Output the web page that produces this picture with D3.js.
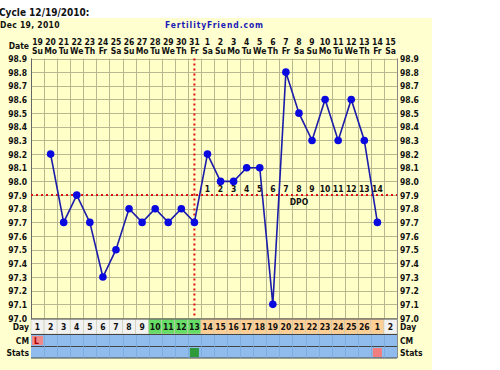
<!DOCTYPE html>
<html><head><meta charset="utf-8">
<script src="https://cdn.jsdelivr.net/npm/d3@7/dist/d3.min.js"></script>
<style>body{margin:0;background:#fff}svg{display:block}text{font-family:"DejaVu Sans Condensed","DejaVu Sans",Verdana,sans-serif;font-weight:bold}</style>
</head><body><svg id="c" width="500" height="370"></svg>
<script>
const dates = ["19","20","21","22","23","24","25","26","27","28","29","30","31","1","2","3","4","5","6","7","8","9","10","11","12","13","14","15"];
const weekdays = ["Su","Mo","Tu","We","Th","Fr","Sa","Su","Mo","Tu","We","Th","Fr","Sa","Su","Mo","Tu","We","Th","Fr","Sa","Su","Mo","Tu","We","Th","Fr","Sa"];
const cycleDays = ["1","2","3","4","5","6","7","8","9","10","11","12","13","14","15","16","17","18","19","20","21","22","23","24","25","26","1","2"];
const dayPhase = ["n","n","n","n","n","n","n","n","n","f","f","f","f","l","l","l","l","l","l","l","l","l","l","l","l","l","l","n"];
const temps = [null,98.2,97.7,97.9,97.7,97.3,97.5,97.8,97.7,97.8,97.7,97.8,97.7,98.2,98.0,98.0,98.1,98.1,97.1,98.8,98.5,98.3,98.6,98.3,98.6,98.3,97.7,null];
const dpo = ["","","","","","","","","","","","","","1","2","3","4","5","6","7","8","9","10","11","12","13","14",""];
const cm = ["L","","","","","","","","","","","","","","","","","","","","","","","","","","",""];
const stats = ["","","","","","","","","","","","","ov","","","","","","","","","","","","","","p",""];
const yTicks = [98.9,98.8,98.7,98.6,98.5,98.4,98.3,98.2,98.1,98.0,97.9,97.8,97.7,97.6,97.5,97.4,97.3,97.2,97.1,97.0];
const coverline = 97.9;
const ovulationIndex = 12;

const svg = d3.select("#c");
const idx = d3.range(dates.length);
const x = d3.scaleBand().domain(idx).range([31, 397]);
const y = d3.scaleLinear().domain([97.0, 98.9]).range([318, 58.5]);
const cx = i => x(i) + x.bandwidth()/2;
const gridC = "#b8b890";
const FS = 8.5;

svg.append("rect").attr("x",0).attr("y",18).attr("width",432).attr("height",352).attr("fill","#ffffd0");
svg.append("text").attr("x",-1).attr("y",16).attr("font-size",10).attr("fill","#111").text("Cycle 12/19/2010:");
svg.append("text").attr("x",0).attr("y",28).attr("font-size",8.5).attr("letter-spacing",0.3).attr("fill","#111").text("Dec 19, 2010");
svg.append("text").attr("x",165).attr("y",28).attr("font-size",8.5).attr("letter-spacing",0.9).attr("fill","#1a1ab8").text("FertilityFriend.com");

// plot area
svg.append("rect").attr("x",31).attr("y",y(98.9)).attr("width",366).attr("height",y(97.0)-y(98.9)).attr("fill","#ffffc8");
// grid
svg.append("g").selectAll("line").data(yTicks).join("line")
  .attr("x1",31).attr("x2",397).attr("y1",d=>Math.round(y(d))+0.5).attr("y2",d=>Math.round(y(d))+0.5)
  .attr("stroke",gridC).attr("stroke-width",1);
svg.append("g").selectAll("line").data(d3.range(dates.length+1)).join("line")
  .attr("x1",i=>Math.round(i<dates.length?x(i):397)+0.5).attr("x2",i=>Math.round(i<dates.length?x(i):397)+0.5)
  .attr("y1",y(98.9)).attr("y2",y(97.0))
  .attr("stroke",gridC).attr("stroke-width",1);
svg.append("line").attr("x1",31.5).attr("x2",31.5).attr("y1",y(98.9)).attr("y2",358).attr("stroke","#666");
svg.append("line").attr("x1",397.5).attr("x2",397.5).attr("y1",y(98.9)).attr("y2",358).attr("stroke","#888");

// header
const hdr = svg.append("g").attr("font-size",FS).attr("fill","#111").attr("text-anchor","middle");
hdr.selectAll(".d").data(idx).join("text").attr("x",cx).attr("y",45).text(i=>dates[i]);
hdr.selectAll(".w").data(idx).join("text").attr("x",cx).attr("y",54).text(i=>weekdays[i]);
svg.append("text").attr("x",29).attr("y",49).attr("text-anchor","end").attr("font-size",FS).attr("fill","#111").text("Date");

// y labels
svg.append("g").selectAll("text").data(yTicks).join("text")
  .attr("x",27).attr("y",d=>y(d)+3.5).attr("text-anchor","end").attr("font-size",FS).attr("fill","#111").text(d=>d.toFixed(1));
svg.append("g").selectAll("text").data(yTicks).join("text")
  .attr("x",400).attr("y",d=>y(d)+3.5).attr("font-size",FS).attr("fill","#111").text(d=>d.toFixed(1));

// coverline and ovulation line
svg.append("line").attr("x1",31).attr("x2",397).attr("y1",y(coverline)).attr("y2",y(coverline))
  .attr("stroke","#dd1111").attr("stroke-width",2).attr("stroke-dasharray","2,3");
svg.append("line").attr("x1",cx(ovulationIndex)).attr("x2",cx(ovulationIndex)).attr("y1",y(98.9)).attr("y2",y(97.0))
  .attr("stroke","#dd1111").attr("stroke-width",2).attr("stroke-dasharray","2,3");

// DPO labels
svg.append("g").selectAll("text").data(idx.filter(i=>dpo[i])).join("text")
  .attr("x",cx).attr("y",y(coverline)-3).attr("text-anchor","middle").attr("font-size",FS).attr("fill","#111").text(i=>dpo[i]);
svg.append("text").attr("x",cx(20)).attr("y",y(coverline)+10).attr("text-anchor","middle").attr("font-size",FS).attr("fill","#111").text("DPO");

// temperature line
const line = d3.line().defined(i=>temps[i]!==null).x(cx).y(i=>y(temps[i]));
svg.append("path").datum(idx).attr("d",line).attr("fill","none").attr("stroke","#1c1caa").attr("stroke-width",1.6);
svg.append("g").selectAll("circle").data(idx.filter(i=>temps[i]!==null)).join("circle")
  .attr("cx",cx).attr("cy",i=>y(temps[i])).attr("r",3.8).attr("fill","#0a0ae0");

// bottom rows
const phaseColor = {n:"#f2f2f2", f:"#66dd66", l:"#ffcf96"};
const dayTop = 319, dayH = 15, cmTop = 335, cmH = 11, stTop = 347, stH = 11;
svg.append("g").selectAll("rect").data(idx).join("rect")
  .attr("x",i=>x(i)).attr("y",dayTop).attr("width",x.bandwidth()).attr("height",dayH)
  .attr("fill",i=>phaseColor[dayPhase[i]]).attr("stroke","#c8c8b0").attr("stroke-width",0.6);
svg.append("g").selectAll("text").data(idx).join("text")
  .attr("x",cx).attr("y",dayTop+11).attr("text-anchor","middle").attr("font-size",FS).attr("fill","#111").text(i=>cycleDays[i]);
svg.append("rect").attr("x",31).attr("y",cmTop).attr("width",366).attr("height",cmH).attr("fill","#8fbcec");
svg.append("rect").attr("x",31).attr("y",stTop).attr("width",366).attr("height",stH).attr("fill","#8fbcec");
svg.append("g").selectAll("rect").data(idx.filter(i=>cm[i])).join("rect")
  .attr("x",i=>x(i)+1).attr("y",cmTop+1).attr("width",x.bandwidth()-2).attr("height",cmH-2).attr("fill","#f08888");
svg.append("g").selectAll("text").data(idx.filter(i=>cm[i])).join("text")
  .attr("x",i=>x(i)+3).attr("y",cmTop+9).attr("font-size",FS).attr("fill","#aa0000").text(i=>cm[i]);
const statColor = {ov:"#2e9a3a", p:"#f07e7e"};
svg.append("g").selectAll("rect").data(idx.filter(i=>stats[i])).join("rect")
  .attr("x",i=>x(i)+2).attr("y",stTop+1).attr("width",x.bandwidth()-4).attr("height",stH-2).attr("fill",i=>statColor[stats[i]]);
[[dayTop,"#555"],[cmTop-0.5,"#444"],[stTop-0.5,"#444"],[stTop+stH,"#444"]].forEach(([yy,c])=>{
  svg.append("line").attr("x1",31).attr("x2",397).attr("y1",yy).attr("y2",yy).attr("stroke",c).attr("stroke-width",1.2);
});
svg.append("g").selectAll("line").data(d3.range(1,dates.length)).join("line")
  .attr("x1",i=>Math.round(x(i))+0.5).attr("x2",i=>Math.round(x(i))+0.5).attr("y1",cmTop).attr("y2",stTop+stH)
  .attr("stroke","#7aa8d8").attr("stroke-width",0.8);
const rowLab = [["Day",dayTop+11],["CM",cmTop+9],["Stats",stTop+9]];
rowLab.forEach(([t,yy])=>{
  svg.append("text").attr("x",29).attr("y",yy).attr("text-anchor","end").attr("font-size",FS).attr("fill","#111").text(t);
  svg.append("text").attr("x",400).attr("y",yy).attr("font-size",FS).attr("fill","#111").text(t);
});
</script></body></html>
